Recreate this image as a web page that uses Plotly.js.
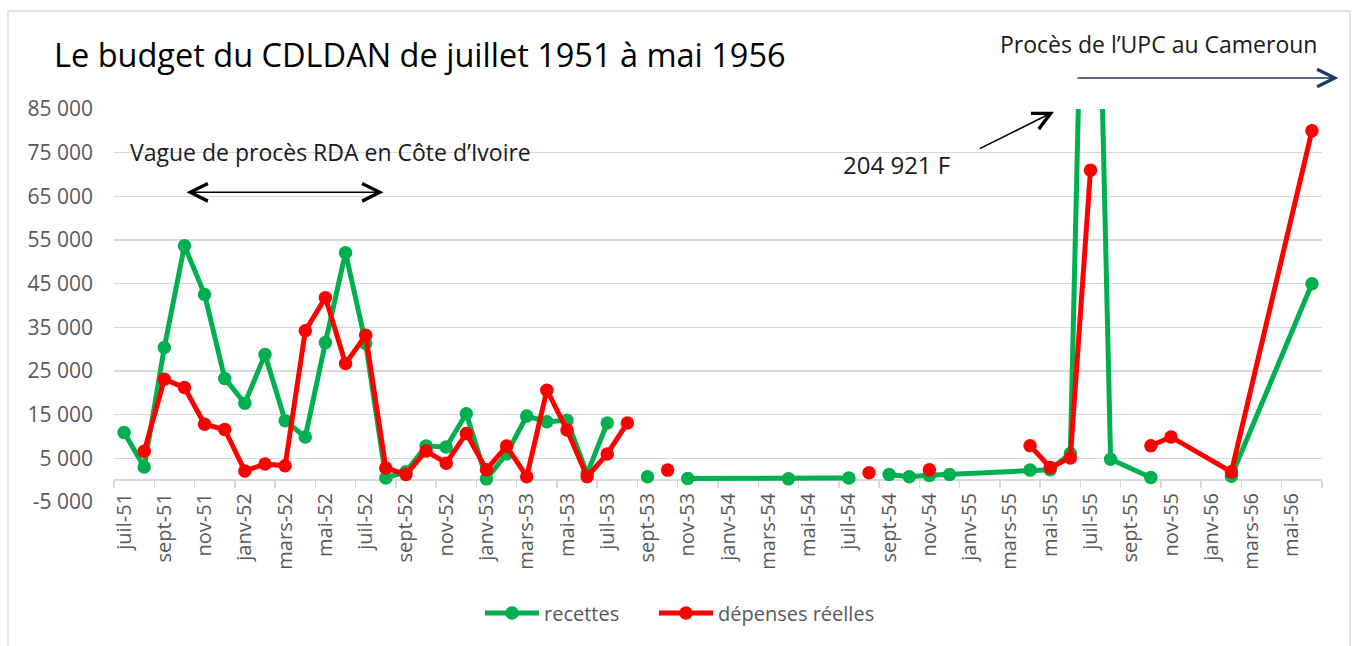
<!DOCTYPE html>
<html><head><meta charset="utf-8">
<script src="https://cdn.plot.ly/plotly-3.0.1.min.js"></script>
<style>html,body{margin:0;padding:0;background:#fff}#chart{width:1353px;height:646px}</style>
</head><body><div id="chart"></div>
<script>
// ---- categories (monthly, juil-51 .. juin-56) ----
const monthNames = ['janv','févr','mars','avr','mai','juin','juil','août','sept','oct','nov','déc'];
const months = [];
for (let y = 51; y <= 56; y++) {
  for (let m = 0; m < 12; m++) {
    if ((y === 51 && m < 6) || (y === 56 && m > 5)) continue;
    months.push(monthNames[m] + '-' + y);
  }
}
const tickLabels = months.filter((m, i) => i % 2 === 0);

// ---- rows of the source table (months that have a row) ----
const rowMonths = [
  'juil-51','août-51','sept-51','oct-51','nov-51','déc-51',
  'janv-52','févr-52','mars-52','avr-52','mai-52','juin-52',
  'juil-52','août-52','sept-52','oct-52','nov-52','déc-52',
  'janv-53','févr-53','mars-53','avr-53','mai-53','juin-53',
  'juil-53','août-53','sept-53','oct-53','nov-53',
  'avr-54','juil-54','août-54','sept-54','oct-54','nov-54','déc-54',
  'avr-55','mai-55','juin-55','juil-55','août-55','oct-55','nov-55',
  'févr-56','juin-56'
];
const recettes = [
  10900, 3000, 30400, 53700, 42500, 23300,
  17600, 28800, 13600, 9900, 31500, 52100,
  31300, 500, 1900, 7800, 7600, 15200,
  300, 6000, 14700, 13400, 13700, 1500,
  13100, null, 800, null, 400,
  300, 500, null, 1300, 800, 1100, 1300,
  2300, 2400, 6100, 204921, 4800, 600, null,
  900, 45000
];
const depenses = [
  null, 6600, 23100, 21200, 12800, 11600,
  2100, 3700, 3300, 34200, 41800, 26700,
  33200, 2800, 1300, 6700, 3900, 10700,
  2400, 7800, 800, 20600, 11500, 800,
  6000, 13100, null, 2300, null,
  null, null, 1700, null, null, 2400, null,
  7900, 2900, 5100, 71000, null, 7900, 9900,
  1900, 80000
];
const yMin = -5000, yMax = 85000, yStep = 10000;
const yTickVals = [];
for (let v = yMin; v <= yMax; v += yStep) yTickVals.push(v);
const yTickText = yTickVals.map(v => (v < 0 ? '-' : '') +
  String(Math.abs(v)).replace(/\B(?=(\d{3})+(?!\d))/g, ' '));

const FONT = 'Open Sans, Noto Sans, sans-serif';
const GRID = '#d9d9d9';

const tickBounds = [];
for (let k = 0; k <= months.length; k += 2) tickBounds.push(k - 0.5);

const traces = [
  {
    type: 'scatter', mode: 'lines+markers', name: 'recettes',
    x: rowMonths, y: recettes, connectgaps: false,
    line: {color: '#00b050', width: 5},
    marker: {color: '#00b050', size: 13.5},
    hoverinfo: 'x+y', legend: 'legend'
  },
  {
    type: 'scatter', mode: 'lines+markers', name: 'dépenses réelles',
    x: rowMonths, y: depenses, connectgaps: false,
    line: {color: '#ff0000', width: 5},
    marker: {color: '#ff0000', size: 13.5},
    hoverinfo: 'x+y', legend: 'legend2'
  },
  {
    type: 'scatter', mode: 'lines', x: [0], y: [null], xaxis: 'x2', yaxis: 'y',
    showlegend: false, hoverinfo: 'skip'
  }
];

function px2x(px) { return (px - 114) / 1208; }
function px2y(py) { return (502 - py) / 393; }

const legendBase = {
  orientation: 'h', xanchor: 'left', y: px2y(613), yanchor: 'middle',
  font: {family: FONT, size: 20, color: '#595959'},
  itemwidth: 54, bgcolor: 'rgba(0,0,0,0)'
};

const layout = {
  width: 1353, height: 646,
  margin: {l: 114, r: 31, t: 109, b: 144, pad: 0},
  paper_bgcolor: '#fff', plot_bgcolor: '#fff',
  separators: ', ',
  font: {family: FONT, color: '#595959', size: 20},
  title: {
    text: 'Le budget du CDLDAN de juillet 1951 à mai 1956',
    xref: 'container', yref: 'container',
    x: 54 / 1353, xanchor: 'left', y: 1 - 56 / 646, yanchor: 'middle',
    font: {family: FONT, size: 32.5, color: '#000000'}
  },
  showlegend: true,
  legend: Object.assign({}, legendBase, {x: px2x(480)}),
  legend2: Object.assign({}, legendBase, {x: px2x(654)}),
  xaxis: {
    type: 'category', categoryorder: 'array', categoryarray: months,
    range: [-0.5, months.length - 0.5],
    tickmode: 'array', tickvals: tickLabels, ticktext: tickLabels,
    tickangle: -90, ticks: '', showgrid: false, showline: false, zeroline: false,
    tickfont: {family: FONT, size: 20, color: '#595959'},
    ticklabelstandoff: -14, fixedrange: true
  },
  xaxis2: {
    overlaying: 'x', anchor: 'free', position: (0 - yMin) / (yMax - yMin),
    type: 'linear', range: [-0.5, months.length - 0.5],
    tickmode: 'array', tickvals: tickBounds,
    ticks: 'outside', ticklen: 7, tickwidth: 1.5, tickcolor: GRID,
    showticklabels: false, showgrid: false, showline: false, zeroline: false,
    layer: 'below traces', fixedrange: true
  },
  yaxis: {
    range: [yMin, yMax], tickmode: 'array', tickvals: yTickVals, ticktext: yTickText,
    showgrid: true, gridcolor: GRID, gridwidth: 1.5,
    zeroline: true, zerolinecolor: GRID, zerolinewidth: 1.5,
    showline: false, ticks: '', ticklabelstandoff: 20,
    tickfont: {family: FONT, size: 21, color: '#595959'}, fixedrange: true
  },
  shapes: [
    {type: 'rect', xref: 'paper', yref: 'paper',
     x0: px2x(8), x1: px2x(1350), y0: px2y(660), y1: px2y(11),
     line: {color: GRID, width: 1.3}, fillcolor: 'rgba(0,0,0,0)', layer: 'below'}
  ],
  annotations: [
    {xref: 'paper', yref: 'paper', x: px2x(128), y: px2y(152), xanchor: 'left', yanchor: 'middle',
     text: 'Vague de procès RDA en Côte d’Ivoire', showarrow: false,
     font: {family: FONT, size: 23, color: '#1a1a1a'}},
    {xref: 'paper', yref: 'paper', x: px2x(383.5), y: px2y(192.3), text: '',
     showarrow: true, arrowside: 'end+start', ax: -198.5, ay: 0, axref: 'pixel', ayref: 'pixel',
     arrowhead: 5, startarrowhead: 5, arrowsize: 2.3, startarrowsize: 2.3,
     arrowwidth: 1.5, arrowcolor: '#000000', standoff: 0, startstandoff: 0},
    {xref: 'paper', yref: 'paper', x: px2x(841), y: px2y(164), xanchor: 'left', yanchor: 'middle',
     text: '204 921 F', showarrow: false,
     font: {family: FONT, size: 24, color: '#1a1a1a'}},
    {xref: 'paper', yref: 'paper', x: px2x(1054), y: px2y(111.7), text: '',
     showarrow: true, ax: -75.7, ay: 37.6, axref: 'pixel', ayref: 'pixel',
     arrowhead: 5, arrowsize: 2.3, arrowwidth: 1.5, arrowcolor: '#000000', standoff: 0},
    {xref: 'paper', yref: 'paper', x: px2x(998), y: px2y(44), xanchor: 'left', yanchor: 'middle',
     text: 'Procès de l’UPC au Cameroun', showarrow: false,
     font: {family: FONT, size: 23, color: '#1a1a1a'}},
    {xref: 'paper', yref: 'paper', x: px2x(1338.5), y: px2y(78), text: '',
     showarrow: true, ax: -262.5, ay: 0, axref: 'pixel', ayref: 'pixel',
     arrowhead: 5, arrowsize: 2.3, arrowwidth: 1.5, arrowcolor: '#1f3864', standoff: 0}
  ]
};

Plotly.newPlot('chart', traces, layout, {staticPlot: true, displayModeBar: false});
</script>
</body></html>
